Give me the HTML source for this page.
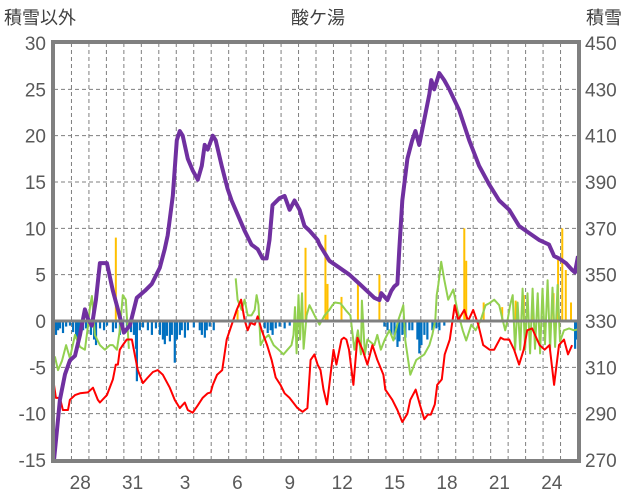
<!DOCTYPE html>
<html><head><meta charset="utf-8">
<style>
html,body{margin:0;padding:0;background:#fff;}
svg{display:block;font-family:"Liberation Sans","Noto Sans CJK JP",sans-serif;}
</style></head>
<body>
<svg id="chart" width="636" height="501" viewBox="0 0 636 501" xmlns="http://www.w3.org/2000/svg">
<text x="4" y="24" font-size="18" fill="#404040">積雪以外</text>
<text x="318" y="24" font-size="18" fill="#404040" text-anchor="middle">酸ケ湯</text>
<text x="586" y="24" font-size="18" fill="#404040">積雪</text>
<g id="grid"></g>
<g id="bars"></g>
<g id="lines"></g>
<g id="frame"></g>
<g id="labels"></g>
</svg>
<script>
const dayLabels = ["28","31","3","6","9","12","15","18","21","24"];
const dayLabelIndex = [1,4,7,10,13,16,19,22,25,28];
const leftTicks = [30,25,20,15,10,5,0,-5,-10,-15];
const rightTicks = [450,430,410,390,370,350,330,310,290,270];

const purpleDays = [0,0.17,0.34,0.63,0.91,1.2,1.49,1.77,1.94,2.17,2.4,2.63,3.03,3.37,3.66,4.0,4.34,4.74,5.2,5.6,6.06,6.34,6.51,6.8,7.03,7.2,7.37,7.66,7.94,8.23,8.46,8.63,8.8,9.09,9.26,9.6,9.94,10.17,10.51,10.91,11.31,11.66,11.94,12.17,12.34,12.51,12.91,13.2,13.49,13.77,14.06,14.34,14.63,15.09,15.2,15.77,16.34,16.91,17.49,18.06,18.34,18.63,18.74,19.09,19.31,19.49,19.66,19.77,19.94,20.23,20.51,20.69,20.91,21.2,21.49,21.6,21.77,22.06,22.34,22.63,23.2,23.77,24.34,24.91,25.49,26.06,26.63,27.2,27.77,28.34,28.63,28.91,29.31,29.66,29.83,30];
const purpleVals = [270,283,296,307,313,315,324,335,331,328,339,355,355,343,335,325,328,340,343,346,353,361,367,384,408,412,410,400,395,391,397,406,404,410,408,397,387,382,376,369,363,361,357,357,365,380,383,384,378,382,378,371,369,365,363,356,353,350,346,342,340,339,342,339,343,345,346,361,382,400,408,412,406,417,428,434,430,437,434,430,421,408,397,389,382,378,371,368,365,363,358,357,355,352,351,358,367];

const redDays = [0,0.11,0.34,0.51,0.8,0.91,1.2,1.49,1.94,2.23,2.51,2.63,3.03,3.37,3.54,3.66,3.77,3.94,4.17,4.46,4.63,4.8,5.09,5.37,5.66,5.94,6.23,6.63,6.91,7.2,7.49,7.66,7.94,8.23,8.51,8.8,8.97,9.09,9.34,9.63,9.89,10.46,10.71,10.91,11.09,11.26,11.49,11.66,11.89,12.2,12.46,12.69,12.97,13.2,13.49,13.94,14.23,14.51,14.69,14.91,15.09,15.26,15.43,15.63,16.0,16.17,16.46,16.6,16.74,16.89,17.14,17.37,17.66,17.94,18.23,18.51,18.86,18.97,19.37,19.66,19.94,20.23,20.4,20.71,20.94,21.2,21.4,21.57,21.8,21.94,22.2,22.37,22.66,22.94,23.14,23.49,23.71,24.0,24.29,24.57,24.94,25.2,25.34,25.57,25.77,26.06,26.34,26.63,26.89,27.09,27.37,27.8,28.09,28.37,28.63,28.91,29.2,29.43,29.66,30];
const redVals = [-6.9,-8.3,-8.3,-9.6,-9.6,-8.5,-8.0,-7.8,-7.7,-7.2,-8.5,-8.8,-8.0,-6.3,-4.7,-4.7,-3.1,-2.6,-2.0,-2.0,-3.7,-5.3,-6.7,-6.1,-5.5,-5.3,-5.8,-7.2,-8.5,-9.4,-8.8,-9.6,-9.9,-9.1,-8.3,-7.8,-7.7,-6.9,-5.8,-5.3,-2.0,1.2,2.3,0.1,-1.0,-0.2,-0.4,0.5,-1.0,-2.6,-4.2,-6.1,-6.9,-7.8,-8.3,-9.4,-9.8,-9.4,-4.2,-3.6,-4.7,-5.3,-7.4,-9.0,-3.1,-4.7,-2.0,-1.8,-2.0,-3.1,-6.9,-1.8,-3.1,-4.7,-2.6,-4.2,-5.8,-7.4,-8.5,-9.6,-10.9,-10.0,-8.5,-7.4,-9.0,-10.6,-10.1,-10.1,-9.0,-6.9,-6.3,-3.6,-2.0,1.7,0.1,1.2,0.0,1.2,-0.4,-2.6,-3.1,-3.1,-2.6,-1.8,-2.0,-2.0,-3.1,-4.7,-3.1,-1.0,-0.8,-2.6,-3.1,-2.6,-6.9,-2.6,-2.0,-3.6,-2.6];

const greenDays = [0,0.06,0.23,0.46,0.69,0.91,1.2,1.49,1.77,1.94,2.06,2.17,2.34,2.63,2.91,3.2,3.37,3.6,3.77,3.94,4.11,4.29,null,10.4,10.51,10.74,10.91,11.09,11.31,11.49,11.6,11.71,11.83,12.0,12.29,12.57,12.86,13.14,13.37,13.6,13.71,13.8,13.89,14.0,14.09,14.2,14.29,14.46,14.63,14.97,15.2,15.49,15.77,15.94,16.09,16.4,16.69,16.97,17.2,17.4,17.57,17.63,17.8,17.94,18.34,18.51,18.71,18.94,19.2,19.43,19.71,19.91,20.0,20.11,20.4,20.74,21.2,21.49,21.66,21.83,21.91,22.0,22.17,22.34,22.57,22.86,23.09,23.4,23.6,23.89,24.14,24.43,24.71,24.91,25.2,25.49,25.69,25.83,25.97,26.11,26.26,26.4,26.54,26.69,26.83,26.97,27.11,27.26,27.4,27.54,27.69,27.83,27.97,28.11,28.26,28.4,28.54,28.69,28.83,28.97,29.2,29.49,29.77,30];
const greenVals = [-4.3,-3.9,-5.3,-4.3,-2.6,-4.0,-1.5,-2.8,-3.1,-0.6,1.5,2.7,-1.5,-2.6,-3.1,-2.6,-2.6,-3.1,-1.0,2.8,2.3,-3.0,null,4.6,2.3,1.2,2.3,0.6,0.6,1.2,2.8,1.7,-2.6,-2.0,-1.5,-2.6,-3.1,-3.6,-3.1,-2.6,-1.5,1.5,-3.5,2.8,-2.0,3.0,-3.0,0.6,1.7,0.4,-0.4,0.6,1.2,1.7,2.0,1.9,1.2,0.6,-3.1,-1.0,-3.6,2.2,-3.6,-2.0,-2.6,-1.5,-3.1,-2.0,-1.0,-2.1,0.1,1.2,1.7,-2.1,-5.8,-4.2,-3.6,-2.6,-1.5,0.1,2.8,3.9,6.4,4.5,2.3,3.4,1.2,-1.0,-2.1,-0.4,-1.0,0.1,1.7,1.9,2.3,1.7,0.1,-1.0,0.1,1.7,2.8,-3.1,2.0,-3.1,3.5,-3.1,3.0,-3.5,3.5,-3.0,3.0,-3.5,3.5,-2.5,4.4,-3.1,3.6,-2.8,3.9,-2.2,-1.0,-0.8,-1.0,-0.9];

const orangeDays = [3.54,10.51,14.4,15.54,15.66,16.46,17.4,18.63,23.49,23.6,24.6,25.66,26.43,26.9,27.4,28.6,28.86,29.1,29.3,29.6];
const orangeVals = [9.0,1.2,7.9,9.3,4.0,2.6,4.1,5.0,10.0,6.5,2.0,1.5,2.2,2.8,2.5,3.0,6.6,10.0,5.5,2.0];

const blueDays = [0.11,0.23,0.34,0.51,0.69,0.91,1.09,1.26,1.37,1.49,1.66,1.83,2.11,2.29,2.4,2.63,2.86,3.03,3.37,3.54,3.77,3.94,4.17,4.4,4.57,4.69,4.74,4.91,5.09,5.37,5.6,5.83,6.06,6.23,6.34,6.46,6.63,6.74,6.91,7.03,7.2,7.31,7.49,7.66,8.0,8.34,8.46,8.63,8.74,8.91,9.14,11.2,12.06,12.23,12.4,12.51,12.69,12.91,13.2,13.49,13.77,18.91,19.09,19.31,19.49,19.66,19.77,19.94,20.11,20.34,20.51,20.8,20.91,21.03,21.2,21.37,21.66,21.89,22.06,22.34,28.69,29.83,29.94];
const blueVals = [-1.5,-1.0,-0.8,-1.3,-0.6,-0.5,-1.2,-1.8,-2.0,-1.5,-1.0,-0.8,-1.5,-2.0,-2.6,-0.8,-1.0,-0.5,-1.2,-0.8,-1.5,-1.0,-0.6,-1.2,-1.5,-3.0,-6.5,-1.0,-0.7,-1.0,-1.5,-0.8,-1.5,-2.0,-2.5,-1.6,-2.2,-1.5,-4.5,-2.0,-1.5,-1.0,-1.8,-1.0,-0.7,-1.0,-1.5,-1.8,-1.0,-0.6,-1.0,-0.5,-0.8,-1.3,-1.0,-1.5,-0.8,-0.6,-0.8,-0.5,-0.5,-0.6,-1.0,-1.5,-2.0,-2.8,-2.2,-1.5,-1.8,-1.0,-1.0,-2.0,-3.5,-2.6,-1.5,-2.0,-1.0,-0.8,-1.0,-0.5,-0.6,-3.0,-2.0];

const NS = "http://www.w3.org/2000/svg";
const X0 = 54, X1 = 578, Y0 = 43, Y1 = 460, NDAYS = 30;
function xs(d){ return X0 + d*(X1-X0)/NDAYS; }
function yl(v){ return Y1 - (v+15)*(Y1-Y0)/45; }
function yr(v){ return Y1 - (v-270)*(Y1-Y0)/180; }
function mk(tag, attrs, parent){
  const e = document.createElementNS(NS, tag);
  for (const k in attrs) e.setAttribute(k, attrs[k]);
  parent.appendChild(e);
  return e;
}
const grid = document.getElementById('grid');
const bars = document.getElementById('bars');
const lines = document.getElementById('lines');
const frame = document.getElementById('frame');
const labels = document.getElementById('labels');

leftTicks.forEach(function(t){
  if (t===30 || t===-15 || t===0) return;
  const l = mk('line', {x1:X0, x2:X1, y1:yl(t), y2:yl(t), stroke:'#7f7f7f', 'stroke-width':1, 'stroke-dasharray':'4,3'}, grid);
  
  
});
for (let k=1;k<NDAYS;k++){
  const l = mk('line', {x1:xs(k), x2:xs(k), y1:Y0, y2:Y1, stroke:'#7f7f7f', 'stroke-width':1, 'stroke-dasharray':'4,3'}, grid);
  
  
}

orangeDays.forEach(function(d,i){
  const v = orangeVals[i];
  const r = mk('rect', {x:xs(d)-1, y:yl(v), width:2, height:yl(0)-yl(v), fill:'#FFC000'}, bars);
  
  
});
blueDays.forEach(function(d,i){
  const v = blueVals[i];
  const r = mk('rect', {x:xs(d)-1, y:yl(0), width:2.2, height:yl(v)-yl(0), fill:'#0070C0'}, bars);
  
  
});

function pathFrom(days, vals, yf){
  let p = '', pen = false;
  for (let i=0;i<days.length;i++){
    if (days[i]===null){ pen=false; continue; }
    p += (pen?'L':'M') + xs(days[i]).toFixed(1) + ',' + yf(vals[i]).toFixed(1) + ' ';
    pen = true;
  }
  return p;
}
const g = mk('path', {d:pathFrom(greenDays, greenVals, yl), fill:'none', stroke:'#92D050', 'stroke-width':2, 'stroke-linejoin':'round'}, lines);


const rd = mk('path', {d:pathFrom(redDays, redVals, yl), fill:'none', stroke:'#FF0000', 'stroke-width':2, 'stroke-linejoin':'round'}, lines);


const pu = mk('path', {d:pathFrom(purpleDays, purpleVals, yr), fill:'none', stroke:'#7030A0', 'stroke-width':4, 'stroke-linejoin':'round'}, lines);



const zl = mk('line', {x1:X0, x2:X1, y1:yl(0), y2:yl(0), stroke:'#808080', 'stroke-width':3}, frame);


const fr = mk('rect', {x:X0-1, y:Y0-1, width:X1-X0+2, height:Y1-Y0+2, fill:'none', stroke:'#808080', 'stroke-width':4}, frame);



leftTicks.forEach(function(t){
  const tx = mk('text', {x:46, y:yl(t)+7, 'font-size':19, fill:'#595959', 'text-anchor':'end'}, labels);
  
  
  tx.textContent = String(t);
});
rightTicks.forEach(function(t){
  const tx = mk('text', {x:585, y:yr(t)+7, 'font-size':19, fill:'#595959'}, labels);
  
  
  tx.textContent = String(t);
});
dayLabels.forEach(function(s,i){
  const tx = mk('text', {x:xs(dayLabelIndex[i]+0.5), y:489, 'font-size':19, fill:'#595959', 'text-anchor':'middle'}, labels);
  
  
  tx.textContent = s;
});
</script>
</body></html>
